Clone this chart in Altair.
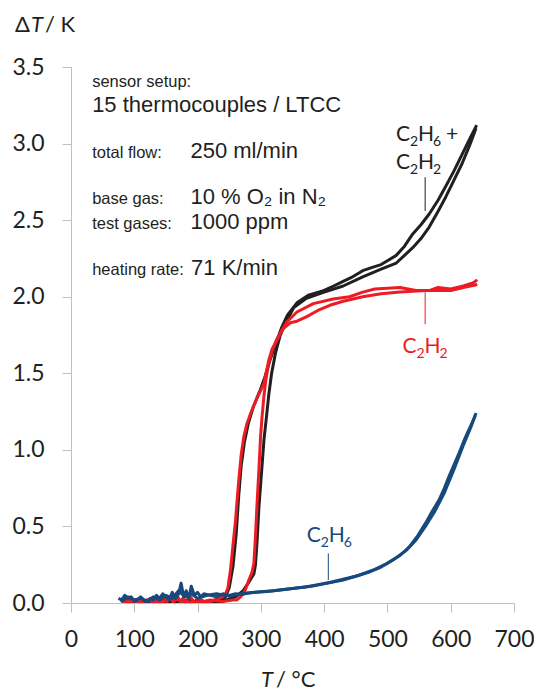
import altair as alt
import pandas as pd

# ---------------- data ----------------
# C2H6 + C2H2 (black), branch A (left rise) and branch B (right rise)
BLK_A_T = [78, 90, 100, 110, 120, 130, 140, 150, 160, 170, 180, 190, 200, 210, 220, 230, 238, 244, 250, 256,
           261, 265, 269, 274, 280, 288, 298, 306, 314, 324, 333, 342, 357, 375, 399, 415, 430, 445, 461, 475,
           490, 502, 514, 527, 540, 553, 566, 580, 592, 605, 618, 630, 641]
BLK_A_V = [0.02, 0.01, 0.02, 0.0, 0.01, 0.02, 0.01, 0.03, 0.0, 0.02, 0.01, 0.0, 0.02, 0.01, 0.0, 0.01, 0.02, 0.04,
           0.1, 0.24, 0.45, 0.7, 0.9, 1.05, 1.17, 1.28, 1.38, 1.47, 1.58, 1.7, 1.8, 1.88, 1.96, 2.01, 2.04, 2.07,
           2.1, 2.13, 2.17, 2.19, 2.21, 2.24, 2.27, 2.33, 2.41, 2.47, 2.54, 2.63, 2.72, 2.82, 2.93, 3.03, 3.12]
BLK_B_T = [80, 95, 110, 125, 140, 155, 170, 185, 200, 215, 230, 245, 260, 272, 280, 286, 289, 291.5, 294, 297,
           301, 305, 309, 312.5, 317, 323, 330, 338.6, 352, 372, 400, 430, 461, 490, 514, 527, 540, 553, 566,
           579, 592, 605, 618, 630, 640]
BLK_B_V = [0.01, 0.02, 0.0, 0.01, 0.02, 0.0, 0.01, 0.02, 0.0, 0.01, 0.0, 0.02, 0.04, 0.08, 0.13, 0.17, 0.19, 0.25,
           0.4, 0.63, 0.85, 1.07, 1.22, 1.36, 1.5, 1.63, 1.74, 1.825, 1.93, 1.99, 2.03, 2.07, 2.13, 2.18, 2.22,
           2.27, 2.32, 2.38, 2.455, 2.55, 2.65, 2.76, 2.87, 2.99, 3.1]

# C2H2 (red)
RED_A_T = [80, 90, 100, 110, 120, 130, 137, 142, 147, 152, 157, 162, 167, 172, 177, 182, 187, 192, 197, 202, 210,
           218, 226, 234, 240, 244.5, 248, 252, 256, 260, 263, 265.5, 269, 273, 278, 284, 294, 304.7, 312.5, 318,
           325.5, 333, 341, 357, 383, 414, 440, 461, 480, 520, 545, 566, 580, 600, 620, 635, 642]
RED_A_V = [0.0, 0.02, 0.01, 0.0, 0.02, 0.01, 0.03, 0.0, 0.05, 0.01, 0.04, 0.0, 0.06, 0.01, 0.03, 0.0, 0.05, 0.02,
           0.0, 0.03, 0.01, 0.0, 0.02, 0.03, 0.04, 0.06, 0.1, 0.215, 0.38, 0.54, 0.7, 0.82, 0.97, 1.085, 1.17,
           1.24, 1.34, 1.43, 1.585, 1.66, 1.715, 1.78, 1.835, 1.9, 1.955, 1.985, 2.0, 2.03, 2.05, 2.06, 2.04,
           2.04, 2.06, 2.05, 2.07, 2.09, 2.11]
RED_B_T = [80, 100, 120, 140, 160, 180, 200, 220, 240, 255, 262, 268, 275, 281, 286, 289, 291, 294, 297, 299.5,
           302, 304.7, 308, 312.5, 318, 325, 335, 346.5, 357, 372.6, 390, 409, 430, 461, 490, 520, 560, 600, 620,
           642]
RED_B_V = [0.01, 0.0, 0.02, 0.0, 0.03, 0.01, 0.0, 0.02, 0.01, 0.02, 0.02, 0.04, 0.08, 0.15, 0.2, 0.26, 0.4, 0.65,
           0.88, 1.085, 1.22, 1.345, 1.46, 1.565, 1.65, 1.72, 1.79, 1.83, 1.84, 1.87, 1.91, 1.944, 1.97, 2.0,
           2.02, 2.03, 2.04, 2.04, 2.06, 2.08]

# C2H6 (blue)
BLU_A_T = [75, 80, 85, 90, 95, 100, 105, 110, 115, 120, 125, 130, 135, 140, 145, 150, 155, 160, 165, 170, 174,
           178, 182, 186, 190, 195, 200, 205, 210, 220, 230, 240, 250, 260, 270, 280, 300, 320, 340, 360, 380,
           404, 430, 456, 480, 500, 520, 534.5, 548, 560, 571, 581.5, 590, 597, 605, 613, 620, 626, 633, 639]
BLU_A_V = [0.03, 0.02, 0.05, 0.03, 0.04, 0.01, 0.02, 0.04, 0.02, 0.0, 0.03, 0.02, 0.05, 0.03, 0.06, 0.04, 0.02,
           0.07, 0.03, 0.06, 0.13, 0.04, 0.08, 0.03, 0.11, 0.05, 0.07, 0.04, 0.06, 0.05, 0.04, 0.06, 0.05, 0.06,
           0.055, 0.065, 0.074, 0.08, 0.09, 0.1, 0.11, 0.128, 0.15, 0.183, 0.22, 0.259, 0.31, 0.367, 0.44, 0.52,
           0.6, 0.672, 0.75, 0.824, 0.9, 0.977, 1.05, 1.107, 1.17, 1.226]
BLU_B_T = [80, 90, 100, 110, 120, 130, 140, 150, 160, 170, 180, 190, 200, 215, 230, 250, 270, 290, 310, 330, 350,
           370, 390, 410, 430, 450, 470, 490, 510, 530, 545, 560, 575, 590, 605, 620, 632, 640]
BLU_B_V = [0.01, 0.04, 0.02, 0.03, 0.01, 0.04, 0.02, 0.05, 0.03, 0.08, 0.04, 0.06, 0.03, 0.05, 0.06, 0.045, 0.06,
           0.07, 0.075, 0.085, 0.095, 0.105, 0.12, 0.135, 0.155, 0.175, 0.2, 0.235, 0.285, 0.345, 0.41, 0.5,
           0.6, 0.72, 0.87, 1.03, 1.15, 1.24]

X_TICKS = [0, 100, 200, 300, 400, 500, 600, 700]
Y_TICKS = [0.0, 0.5, 1.0, 1.5, 2.0, 2.5, 3.0, 3.5]

INFO_LABELS = ["sensor setup:", "total flow:", "base gas:", "test gases:", "heating rate:"]
INFO_VALUES = ["15 thermocouples / LTCC", "250 ml/min", "10 % O\u2082 in N\u2082", "1000 ppm", "71 K/min"]

# species labels: anchor (T, dT) and formula parts (text, is_subscript)
SPECIES_ANCHOR_T = [513.6, 513.6, 524.0, 372.6]
SPECIES_ANCHOR_V = [3.02, 2.835, 1.63, 0.40]
SPECIES_PARTS = [
    [("C", 0), ("2", 1), ("H", 0), ("6", 1), ("+", 0)],
    [("C", 0), ("2", 1), ("H", 0), ("2", 1)],
    [("C", 0), ("2", 1), ("H", 0), ("2", 1)],
    [("C", 0), ("2", 1), ("H", 0), ("6", 1)],
]

BLACK = "#231f20"
RED = "#ed1c24"
BLUE = "#17497c"
AXIS_GREY = "#bfbfbf"
SPECIES_COLORS = [BLACK, BLACK, RED, BLUE]

W, H = 443, 536
X_DOM = [0, 700]
Y_DOM = [0, 3.5]
PX_PER_X = W / (X_DOM[1] - X_DOM[0])
PX_PER_Y = H / (Y_DOM[1] - Y_DOM[0])
PART_DX = [0, 14, 22, 37, 50]       # pixel offsets of the formula parts
SUB_DY = 5                          # subscript drop in pixels


def branch(T, V, name):
    return pd.DataFrame({"T": T, "dT": V, "branch": name, "ord": list(range(len(T)))})


black_df = pd.concat([branch(BLK_A_T, BLK_A_V, "A"), branch(BLK_B_T, BLK_B_V, "B")])
red_df = pd.concat([branch(RED_A_T, RED_A_V, "A"), branch(RED_B_T, RED_B_V, "B")])
blue_df = pd.concat([branch(BLU_A_T, BLU_A_V, "A"), branch(BLU_B_T, BLU_B_V, "B")])

xs = alt.Scale(domain=X_DOM, nice=False, zero=False)
ys = alt.Scale(domain=Y_DOM, nice=False)

x_axis = alt.Axis(values=X_TICKS, title=None, grid=False, domainColor=AXIS_GREY, tickColor=AXIS_GREY,
                  tickSize=9, labelFont="Lato", labelFontSize=23, labelColor=BLACK, labelPadding=16,
                  labelFlush=False, labelOverlap=False)
y_axis = alt.Axis(values=Y_TICKS, format=".1f", title=None, grid=False, domainColor=AXIS_GREY,
                  tickColor=AXIS_GREY, tickSize=9, labelFont="Lato", labelFontSize=23, labelColor=BLACK,
                  labelPadding=18, labelFlush=False, labelOverlap=False)


def X(field="T"):
    return alt.X(f"{field}:Q", scale=xs, axis=x_axis)


def Y(field="dT"):
    return alt.Y(f"{field}:Q", scale=ys, axis=y_axis)


def curve(df, color):
    return alt.Chart(df).mark_line(color=color, strokeWidth=3, clip=True, strokeJoin="round").encode(
        x=X(), y=Y(), detail="branch:N", order="ord:Q")


black = curve(black_df, BLACK)
red = curve(red_df, RED)
blue = curve(blue_df, BLUE)

# ---- label pointer lines (data coordinates) ----
ptr = pd.DataFrame({
    "T": [559.6, 559.6, 406.6],
    "dT": [2.78, 2.03, 0.324],
    "dT2": [2.56, 1.82, 0.15],
    "c": [BLACK, RED, BLUE],
})
pointers = alt.Chart(ptr).mark_rule(strokeWidth=1).encode(
    x=X(), y=Y(), y2="dT2:Q", color=alt.Color("c:N", scale=None))

# ---- species labels built from parts ----
rows = []
for t0, v0, parts, col in zip(SPECIES_ANCHOR_T, SPECIES_ANCHOR_V, SPECIES_PARTS, SPECIES_COLORS):
    for (txt, sub), dx in zip(parts, PART_DX):
        rows.append({"T": t0 + dx / PX_PER_X,
                     "dT": v0 - (SUB_DY / PX_PER_Y if sub else 0),
                     "txt": txt, "c": col, "fs": 14 if sub else 21})
spec_df = pd.DataFrame(rows)
species = alt.Chart(spec_df).mark_text(font="Lato", align="left", baseline="alphabetic").encode(
    x=X(), y=Y(), text="txt:N", color=alt.Color("c:N", scale=None), size=alt.Size("fs:Q", scale=None))

# ---- info block ----
info_small = pd.DataFrame({"T": [33.4] * 5, "dT": [3.368, 2.907, 2.607, 2.444, 2.14], "txt": INFO_LABELS})
info_big = pd.DataFrame({"T": [33.4, 188.7, 188.7, 188.7, 189.7], "dT": [3.205, 2.907, 2.607, 2.444, 2.14],
                         "txt": INFO_VALUES})

small_txt = alt.Chart(info_small).mark_text(
    font="Liberation Sans", fontSize=16.5, align="left", baseline="alphabetic", color=BLACK).encode(
    x=X(), y=Y(), text="txt:N")
big_txt = alt.Chart(info_big).mark_text(
    font="Liberation Sans", fontSize=22, align="left", baseline="alphabetic", color=BLACK).encode(
    x=X(), y=Y(), text="txt:N")

# ---- axis titles (mixed italic), placed in pixels relative to the plot area ----
one = pd.DataFrame({"k": [0]})


def title_piece(txt, px, py, italic=False):
    return alt.Chart(one).mark_text(
        text=txt, font="Lato", fontSize=22, align="left", baseline="alphabetic", color=BLACK,
        fontStyle="italic" if italic else "normal").encode(x=alt.value(px), y=alt.value(py))


titles = [
    title_piece("\u0394", -56, -35),
    title_piece("T", -40, -35, italic=True),
    title_piece("/ K", -26, -35),
    title_piece("T", 190, 620, italic=True),
    title_piece("/ \u00b0C", 205, 620),
]

chart = alt.layer(black, red, blue, pointers, species, small_txt, big_txt, *titles).properties(
    width=W, height=H,
    padding={"left": 63, "top": 59, "right": 20, "bottom": 88},
    autosize=alt.AutoSizeParams(type="none"),
).configure(background="white").configure_view(stroke=None)

chart.save("out.html", embed_options={"renderer": "svg", "actions": False})
